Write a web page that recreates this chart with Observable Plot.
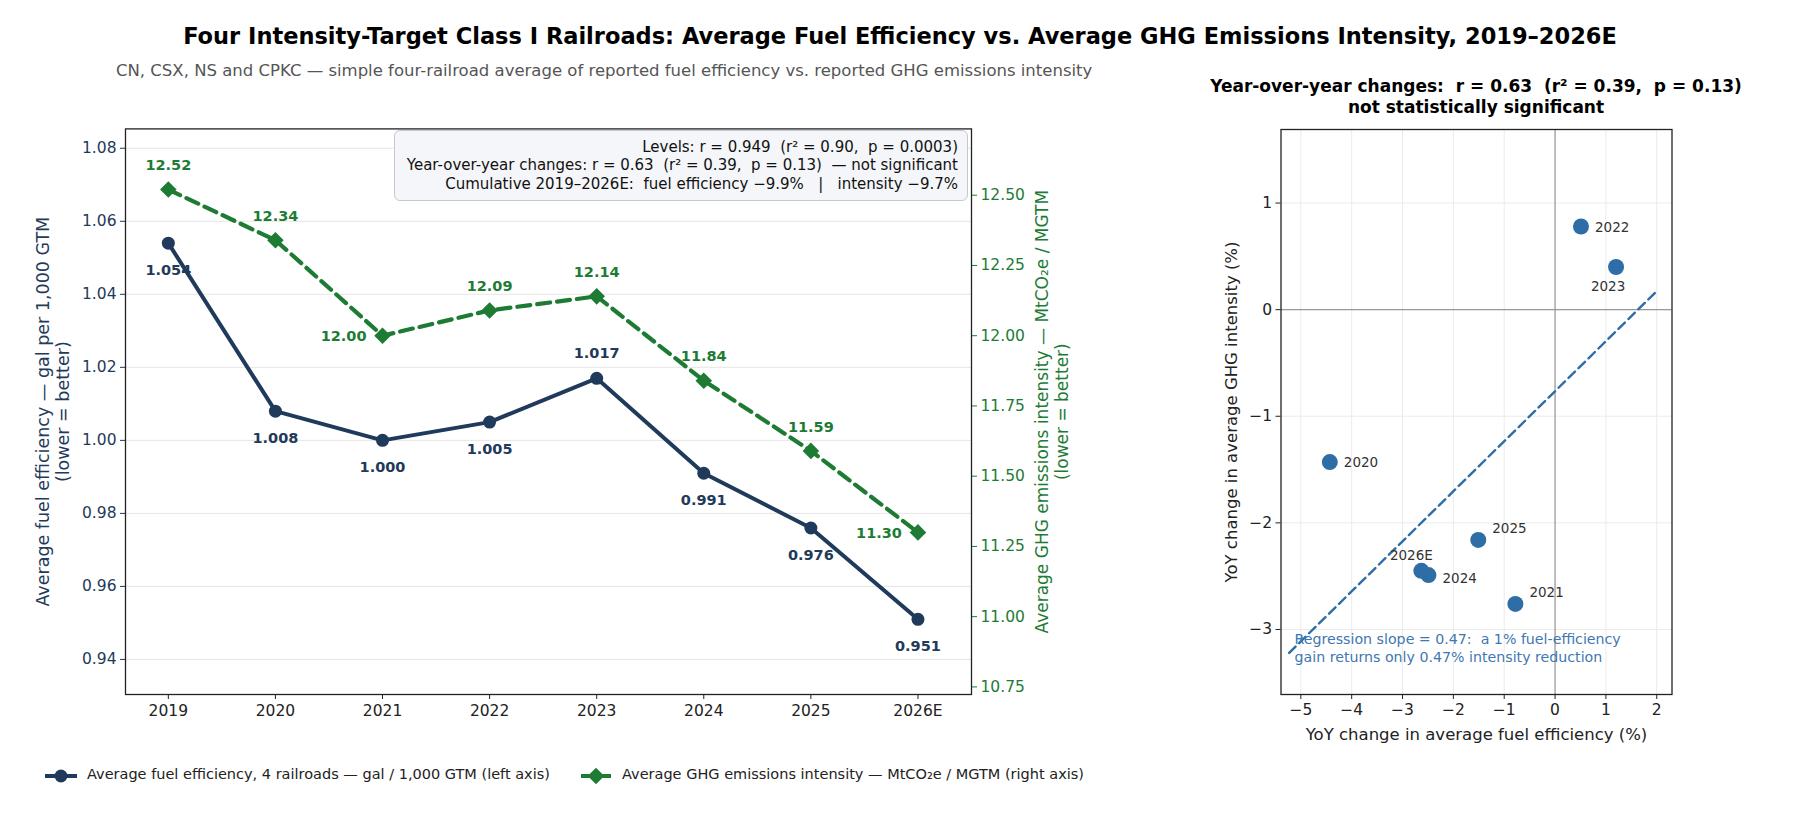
<!DOCTYPE html>
<html><head><meta charset="utf-8">
<script src="https://cdn.jsdelivr.net/npm/d3@7"></script>
<script src="https://cdn.jsdelivr.net/npm/@observablehq/plot@0.6"></script>
<style>
body{margin:0;background:#fff;font-family:"DejaVu Sans",sans-serif;}
#root{position:relative;width:1800px;height:833px;overflow:hidden;background:#fff;}
.abs{position:absolute;white-space:pre;}
.abs svg{overflow:visible;}
</style></head><body><div id="root"></div>
<script>
// ---------------- data ----------------
const years = ["2019","2020","2021","2022","2023","2024","2025","2026E"];
const fuelEfficiency = [1.054,1.008,1.000,1.005,1.017,0.991,0.976,0.951];
const ghgIntensity = [12.52,12.34,12.00,12.09,12.14,11.84,11.59,11.30];
const yoyYears = ["2020","2021","2022","2023","2024","2025","2026E"];
const yoyFuelPct = [-4.43,-0.78,0.51,1.20,-2.49,-1.51,-2.63];
const yoyGhgPct = [-1.43,-2.76,0.78,0.40,-2.49,-2.16,-2.45];
const leftTicks = [0.94,0.96,0.98,1.00,1.02,1.04,1.06,1.08];
const rightTicks = [10.75,11.00,11.25,11.50,11.75,12.00,12.25,12.50];
const scatterXTicks = [-5,-4,-3,-2,-1,0,1,2];
const scatterYTicks = [-3,-2,-1,0,1];
const statsLines = [
  "Levels: r = 0.949  (r² = 0.90,  p = 0.0003)",
  "Year-over-year changes: r = 0.63  (r² = 0.39,  p = 0.13)  — not significant",
  "Cumulative 2019–2026E:  fuel efficiency −9.9%   |   intensity −9.7%"
];

// ---------------- styles ----------------
const navy = "#1f3a5a", green = "#1e7b34", blue = "#2e6da6", regBlue = "#3f77b0";
const FONT = "DejaVu Sans";
const root = document.getElementById("root");
function addDiv(html, css){ const d=document.createElement("div"); d.className="abs"; d.innerHTML=html; Object.assign(d.style, css); root.appendChild(d); return d; }
function addNode(node, left, top){ const d=document.createElement("div"); d.className="abs"; d.style.left=left+"px"; d.style.top=top+"px"; d.appendChild(node); root.appendChild(d); return d; }
const minus = d => (d<0 ? "−"+Math.abs(d) : String(d));

// ---------------- titles ----------------
addDiv("Four Intensity-Target Class I Railroads: Average Fuel Efficiency vs. Average GHG Emissions Intensity, 2019–2026E",
  {left:"0px", width:"1800px", textAlign:"center", top:"23px", lineHeight:"27px", fontSize:"22.5px", fontWeight:"bold", color:"#000"});
addDiv("CN, CSX, NS and CPKC — simple four-railroad average of reported fuel efficiency vs. reported GHG emissions intensity",
  {left:"116px", top:"61px", lineHeight:"20px", fontSize:"16.5px", color:"#555"});
addDiv("Year-over-year changes:  r = 0.63  (r² = 0.39,  p = 0.13)<br>not statistically significant",
  {left:"1176px", width:"600px", textAlign:"center", top:"76px", lineHeight:"21px", fontSize:"17px", fontWeight:"bold", color:"#000"});

// ---------------- left dual-axis chart ----------------
const rows = years.map((y,i)=>({i, year:y, fuel:fuelEfficiency[i], ghg:ghgIntensity[i]}));
const diamond = {draw(ctx,size){const h=Math.sqrt(size/2); ctx.moveTo(0,-h); ctx.lineTo(h,0); ctx.lineTo(0,h); ctx.lineTo(-h,0); ctx.closePath();}};
const common = {
  width:1100, height:740, marginLeft:125, marginRight:129, marginTop:128.4, marginBottom:46,
  style:{background:"transparent", fontFamily:FONT, overflow:"visible"}
};
const navyAbove = new Set(["2023"]);
const greenLeft = new Set(["2021","2026E"]);
const labelFont = 14.5;

const plotA = Plot.plot({
  ...common,
  x:{type:"linear", domain:[-0.4,7.5], axis:null},
  y:{domain:[0.9304,1.0853], axis:null},
  marks:[
    Plot.gridY(leftTicks,{stroke:"#e6e6e6", strokeOpacity:1, strokeWidth:1}),
    Plot.axisX(d3.range(years.length),{tickFormat:i=>years[i], tickSize:5, tickPadding:5, fontSize:15.5, color:"#222", label:null}),
    Plot.axisY(leftTicks,{tickFormat:d3.format(".2f"), tickSize:5, tickPadding:4, fontSize:15.5, color:navy, label:null}),
    Plot.line(rows,{x:"i", y:"fuel", stroke:navy, strokeWidth:4}),
    Plot.dot(rows,{x:"i", y:"fuel", r:6.5, fill:navy, stroke:"none"}),
    Plot.text(rows.filter(d=>!navyAbove.has(d.year)),{x:"i", y:"fuel", text:d=>d.fuel.toFixed(3), dy:27, fill:navy, fontSize:labelFont, fontWeight:"bold"}),
    Plot.text(rows.filter(d=>navyAbove.has(d.year)),{x:"i", y:"fuel", text:d=>d.fuel.toFixed(3), dy:-25, fill:navy, fontSize:labelFont, fontWeight:"bold"}),
    Plot.text(["Average fuel efficiency — gal per 1,000 GTM\n(lower = better)"],{frameAnchor:"left", textAnchor:"middle", lineAnchor:"middle", rotate:-90, dx:-73, fill:navy, fontSize:17.5, lineHeight:1.15}),
    Plot.frame({stroke:"#222", strokeWidth:1.3})
  ]
});
const plotB = Plot.plot({
  ...common,
  x:{type:"linear", domain:[-0.4,7.5], axis:null},
  y:{domain:[10.723,12.736], axis:null},
  marks:[
    Plot.axisY(rightTicks,{anchor:"right", tickFormat:d3.format(".2f"), tickSize:5, tickPadding:4, fontSize:15.5, color:green, label:null}),
    Plot.line(rows,{x:"i", y:"ghg", stroke:green, strokeWidth:4.2, strokeDasharray:"13,7"}),
    Plot.dot(rows,{x:"i", y:"ghg", symbol:diamond, r:6.6, fill:green, stroke:"none"}),
    Plot.text(rows.filter(d=>!greenLeft.has(d.year)),{x:"i", y:"ghg", text:d=>d.ghg.toFixed(2), dy:-24, fill:green, fontSize:labelFont, fontWeight:"bold"}),
    Plot.text(rows.filter(d=>greenLeft.has(d.year)),{x:"i", y:"ghg", text:d=>d.ghg.toFixed(2), dx:-16, dy:1, textAnchor:"end", fill:green, fontSize:labelFont, fontWeight:"bold"}),
    Plot.text(["Average GHG emissions intensity — MtCO₂e / MGTM\n(lower = better)"],{frameAnchor:"right", textAnchor:"middle", lineAnchor:"middle", rotate:-90, dx:80, fill:green, fontSize:17, lineHeight:1.2})
  ]
});
addNode(plotA, 0, 0);
addNode(plotB, 0, 0);

// stats box
addDiv(statsLines.join("<br>"),
  {left:"394px", top:"130px", width:"563px", height:"55px", padding:"7px 9px 7px 0", textAlign:"right",
   fontSize:"15px", lineHeight:"18.3px", color:"#111", background:"rgba(244,246,249,0.95)",
   border:"1px solid #c3c9d2", borderRadius:"6px"});

// ---------------- scatter ----------------
const pts = yoyYears.map((y,i)=>({year:y, x:yoyFuelPct[i], y:yoyGhgPct[i]}));
const mx = d3.mean(pts,d=>d.x), my = d3.mean(pts,d=>d.y);
const slope = d3.sum(pts,d=>(d.x-mx)*(d.y-my))/d3.sum(pts,d=>(d.x-mx)**2);
const intercept = my - slope*mx;
const xr = [d3.min(pts,d=>d.x)-0.8, d3.max(pts,d=>d.x)+0.8];
const reg = xr.map(x=>({x, y:intercept+slope*x}));
const place = {
  "2020":{dx:14,dy:1,a:"start"}, "2022":{dx:14,dy:1,a:"start"}, "2024":{dx:14,dy:4,a:"start"},
  "2021":{dx:14,dy:-11,a:"start"}, "2025":{dx:14,dy:-11,a:"start"},
  "2023":{dx:-8,dy:20,a:"middle"}, "2026E":{dx:-10,dy:-15,a:"middle"}
};
const groups = d3.groups(pts, d=>JSON.stringify(place[d.year]));
const plotC = Plot.plot({
  width:620, height:760, marginLeft:100.5, marginRight:128.5, marginTop:129, marginBottom:66,
  style:{background:"transparent", fontFamily:FONT, overflow:"visible"},
  x:{domain:[-5.39,2.30], axis:null}, y:{domain:[-3.61,1.69], axis:null},
  marks:[
    Plot.gridX(scatterXTicks,{stroke:"#ebebeb", strokeOpacity:1}),
    Plot.gridY(scatterYTicks,{stroke:"#ebebeb", strokeOpacity:1}),
    Plot.ruleX([0],{stroke:"#999", strokeWidth:1.2}),
    Plot.ruleY([0],{stroke:"#999", strokeWidth:1.2}),
    Plot.line(reg,{x:"x", y:"y", stroke:blue, strokeWidth:2.4, strokeDasharray:"9,5"}),
    Plot.dot(pts,{x:"x", y:"y", r:8, fill:blue, stroke:"none"}),
    ...groups.map(([k,g])=>{const p=JSON.parse(k); return Plot.text(g,{x:"x", y:"y", text:"year", dx:p.dx, dy:p.dy, textAnchor:p.a, fill:"#333", fontSize:13.5});}),
    Plot.text([`Regression slope = ${slope.toFixed(2)}:  a 1% fuel-efficiency\ngain returns only ${slope.toFixed(2)}% intensity reduction`],
      {frameAnchor:"bottom-left", dx:13.5, dy:-47, textAnchor:"start", lineAnchor:"middle", fill:regBlue, fontSize:14.2, lineHeight:1.25}),
    Plot.axisX(scatterXTicks,{tickFormat:minus, tickSize:5, tickPadding:4, fontSize:15.5, color:"#222", label:null}),
    Plot.axisY(scatterYTicks,{tickFormat:minus, tickSize:5, tickPadding:4, fontSize:15.5, color:"#222", label:null}),
    Plot.text(["YoY change in average fuel efficiency (%)"],{frameAnchor:"bottom", textAnchor:"middle", lineAnchor:"middle", dy:40, fill:"#222", fontSize:16.5}),
    Plot.text(["YoY change in average GHG intensity (%)"],{frameAnchor:"left", textAnchor:"middle", lineAnchor:"middle", rotate:-90, dx:-49, fill:"#222", fontSize:16.5}),
    Plot.frame({stroke:"#222", strokeWidth:1.3})
  ]
});
addNode(plotC, 1180, 0);

// ---------------- legend ----------------
const lg = `<svg width="40" height="20" style="vertical-align:middle"><line x1="2" y1="10" x2="34" y2="10" stroke="${navy}" stroke-width="4"/><circle cx="18" cy="10" r="6.5" fill="${navy}"/></svg>`;
const lg2 = `<svg width="40" height="20" style="vertical-align:middle"><line x1="2" y1="10" x2="32" y2="10" stroke="${green}" stroke-width="4.2" stroke-dasharray="13,7"/><path d="M17,1.7 L25.3,10 L17,18.3 L8.7,10Z" fill="${green}"/></svg>`;
addDiv(lg, {left:"43px", top:"765px"});
addDiv("Average fuel efficiency, 4 railroads — gal / 1,000 GTM (left axis)", {left:"87px", top:"766px", fontSize:"14.5px", lineHeight:"17px", color:"#222"});
addDiv(lg2, {left:"579px", top:"765px"});
addDiv("Average GHG emissions intensity — MtCO₂e / MGTM (right axis)", {left:"622px", top:"766px", fontSize:"14.5px", lineHeight:"17px", color:"#222"});
</script></body></html>
